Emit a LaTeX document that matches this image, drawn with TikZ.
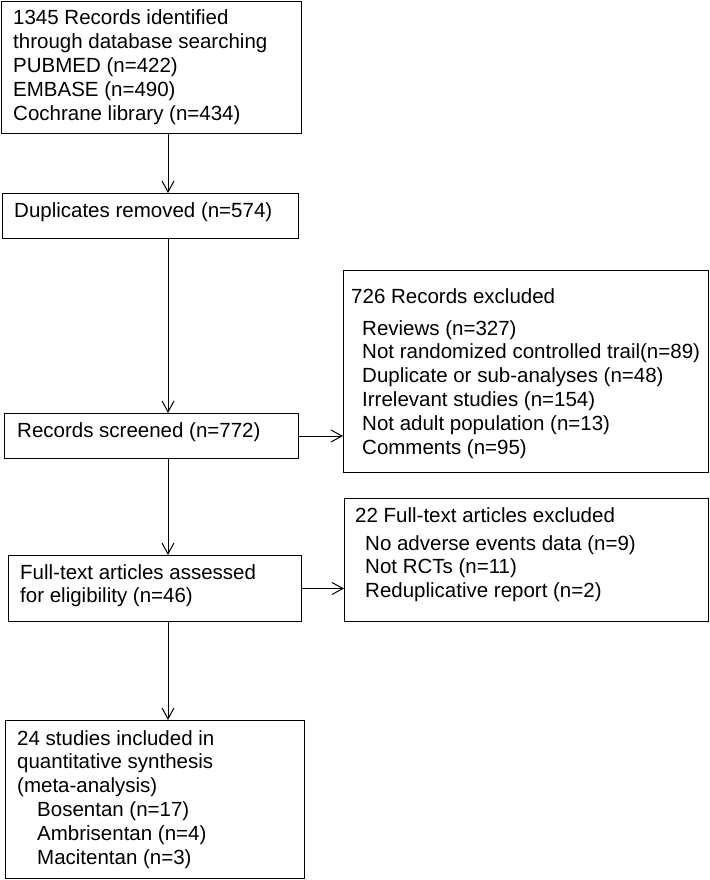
\documentclass[tikz,border=0pt]{standalone}
\usepackage{fontspec}
\setmainfont{Liberation Sans}
\usetikzlibrary{arrows.meta}
\begin{document}
\begin{tikzpicture}[x=1pt,y=-1pt,
  box/.style={draw=black, line width=1pt, inner sep=0pt, anchor=north west},
  arr/.style={draw=black, line width=1pt, -{Straight Barb[length=11pt,width=12pt,line width=1pt]}},
  txt/.style={anchor=base west, inner sep=0pt, font=\fontsize{20.5}{23.8}\selectfont},
]
\useasboundingbox (0,0) rectangle (709,880);
\fill[white] (0,0) rectangle (709,880);

% boxes
\node[box, minimum width=300pt, minimum height=132pt] (b1) at (1,1) {};
\node[box, minimum width=296pt, minimum height=45pt] (b2) at (2,193) {};
\node[box, minimum width=294pt, minimum height=45pt] (b3) at (4,413) {};
\node[box, minimum width=293pt, minimum height=66pt] (b4) at (8,555) {};
\node[box, minimum width=299pt, minimum height=158pt] (b5) at (5,720) {};
\node[box, minimum width=365pt, minimum height=202pt] (r1) at (343,270) {};
\node[box, minimum width=364pt, minimum height=123pt] (r2) at (344,498) {};

% texts
\node[txt] (t1) at (13,25) {\parbox[t]{290pt}{1345 Records identified\\through database searching\\PUBMED (n=422)\\EMBASE (n=490)\\Cochrane library (n=434)}};
\node[txt] (t2) at (14,217) {Duplicates removed (n=574)};
\node[txt] (t3) at (17,437) {Records screened (n=772)};
\node[txt] (t4) at (20,579) {\parbox[t]{280pt}{Full-text articles assessed\\for eligibility (n=46)}};
\node[txt] (t5) at (17,745) {\parbox[t]{285pt}{24 studies included in\\quantitative synthesis\\(meta-analysis)\\\hspace*{20pt}Bosentan (n=17)\\\hspace*{20pt}Ambrisentan (n=4)\\\hspace*{20pt}Macitentan (n=3)}};
\node[txt] (h1) at (351,303) {726 Records excluded};
\node[txt] (i1) at (362,335) {\parbox[t]{345pt}{Reviews (n=327)\\Not randomized controlled trail(n=89)\\Duplicate or sub-analyses (n=48)\\Irrelevant studies (n=154)\\Not adult population (n=13)\\Comments (n=95)}};
\node[txt] (h2) at (355,522) {22 Full-text articles excluded};
\node[txt] (i2) at (365,550) {\parbox[t]{340pt}{No adverse events data (n=9)\\Not RCTs (n=11)\\Reduplicative report (n=2)}};

% connectors
\coordinate (ax) at (168,0);
\draw[arr] (b1.south -| ax) -- (b2.north -| ax);
\draw[arr] (b2.south -| ax) -- (b3.north -| ax);
\draw[arr] (b3.south -| ax) -- (b4.north -| ax);
\draw[arr] (b4.south -| ax) -- (b5.north -| ax);
\draw[arr] (b3.east) -- (b3.east -| r1.west);
\draw[arr] (b4.east) -- (b4.east -| r2.west);
\end{tikzpicture}
\end{document}
